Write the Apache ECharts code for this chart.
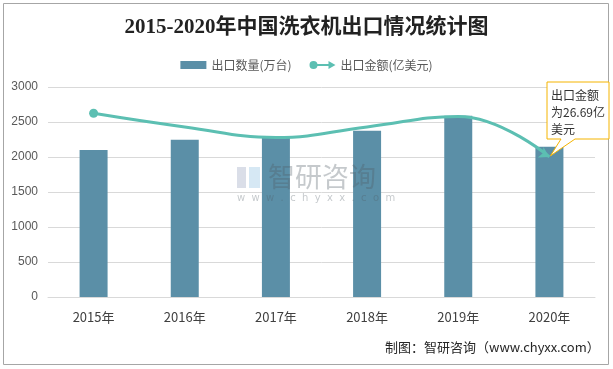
<!DOCTYPE html>
<html><head><meta charset="utf-8">
<script src="https://cdn.jsdelivr.net/npm/echarts@6/dist/echarts.min.js"></script>
<style>html,body{margin:0;padding:0;background:#fff}#c{width:613px;height:369px}</style>
</head><body><div id="c"></div>
<script>
var categories = ['2015年','2016年','2017年','2018年','2019年','2020年'];
var exportVolume = [2100, 2245, 2300, 2375, 2590, 2145];   // 万台
var exportValue = [35.0, 32.4, 30.4, 32.4, 34.4, 26.69];   // 亿美元
var yTicks = [0, 500, 1000, 1500, 2000, 2500, 3000];

var chart = echarts.init(document.getElementById('c'));
var teal = '#5cbfb2';
var lineData = exportValue.map(function(v, i){
  var d = {value: v, symbol: 'none'};
  if (i === 0) { d.symbol = 'circle'; d.symbolSize = 9; }
  if (i === exportValue.length - 1) { d.symbol = 'arrow'; d.symbolSize = [9, 10]; d.symbolRotate = -118; }
  return d;
});
var cjk = '"Noto Sans CJK SC", "Microsoft YaHei", sans-serif';
chart.setOption({
  animation: false,
  backgroundColor: '#fff',
  title: {
    text: '2015-2020年中国洗衣机出口情况统计图',
    left: 'center', top: 12,
    textStyle: {fontSize: 21, fontWeight: 'bold', color: '#222', fontFamily: '"Liberation Serif", "Noto Sans CJK SC", serif'}
  },
  legend: {
    top: 54, left: 'center', itemGap: 18, itemWidth: 26, itemHeight: 8,
    textStyle: {fontSize: 12, color: '#595959', fontFamily: cjk},
    data: [
      {name: '出口数量(万台)', icon: 'rect'},
      {name: '出口金额(亿美元)', icon: 'path://M8,4A4,4,0,1,1,0,4A4,4,0,1,1,8,4Z M6,3L19,3L19,0L26,4L19,8L19,5L6,5Z'}
    ]
  },
  grid: {left: 48, right: 18, top: 87, bottom: 72},
  xAxis: {
    type: 'category', data: categories,
    axisLine: {lineStyle: {color: '#d9d9d9'}},
    axisTick: {show: false},
    axisLabel: {fontSize: 13, color: '#404040', margin: 14, fontFamily: cjk}
  },
  yAxis: [{
    type: 'value', min: yTicks[0], max: yTicks[yTicks.length-1], interval: 500,
    axisLine: {show: false}, axisTick: {show: false},
    axisLabel: {fontSize: 12, color: '#595959', margin: 10, fontFamily: '"Liberation Sans", sans-serif',
      formatter: function(v){ return String(v); }},
    splitLine: {lineStyle: {color: '#d9d9d9'}}
  }, {
    type: 'value', min: 0, max: 40, show: false, splitLine: {show: false}
  }],
  series: [{
    name: '出口数量(万台)', type: 'bar', data: exportVolume, barWidth: 28,
    itemStyle: {color: '#5b8fa7'}
  }, {
    name: '出口金额(亿美元)', type: 'line', yAxisIndex: 1, data: lineData, smooth: 0.45,
    lineStyle: {color: teal, width: 3}, itemStyle: {color: teal}, z: 5
  }]
});

var last = exportValue.length - 1;
var p = chart.convertToPixel({xAxisIndex: 0, yAxisIndex: 1}, [last, exportValue[last]]);
var bx = 547, by = 82, bw = 62, bh = 57;
var wm = 'rgba(80,90,100,0.33)';
chart.setOption({
  graphic: [
    {type: 'rect', shape: {x: 3.5, y: 3.5, width: 605, height: 361}, style: {fill: 'none', stroke: '#a6a6a6', lineWidth: 1}, silent: true, z: 0},
    {type: 'polygon', shape: {points: [[bx, by], [bx + bw, by], [bx + bw, by + bh], [bx + 28, by + bh], [p[0] + 1, p[1] - 1], [bx + 14, by + bh], [bx, by + bh]]},
      style: {fill: '#fff', stroke: '#f5b400', lineWidth: 1}, z: 100},
    {type: 'text', left: bx + 4, top: by + 5, z: 101,
      style: {text: '出口金额\n为26.69亿\n美元', fontSize: 12, lineHeight: 17, fill: '#333', fontFamily: cjk}},
    {type: 'text', left: 385, top: 341, z: 100,
      style: {text: '制图：智研咨询（www.chyxx.com）', fontSize: 13, fill: '#262626', fontFamily: cjk}},
    {type: 'rect', z: 90, shape: {x: 237, y: 167, width: 9, height: 21}, style: {fill: 'rgba(150,160,190,0.35)'}},
    {type: 'rect', z: 90, shape: {x: 249, y: 167, width: 11, height: 21}, style: {fill: 'rgba(120,180,220,0.3)'}},
    {type: 'text', z: 90, left: 268, top: 163, style: {text: '智研咨询', fontSize: 27, fill: wm, fontFamily: cjk}},
    {type: 'text', z: 90, left: 237, top: 193, style: {text: 'w  w  w  .  c  h  y  x  x  .  c  o  m', fontSize: 10, fill: wm, fontFamily: '"DejaVu Sans", sans-serif'}}
  ]
});
</script></body></html>
